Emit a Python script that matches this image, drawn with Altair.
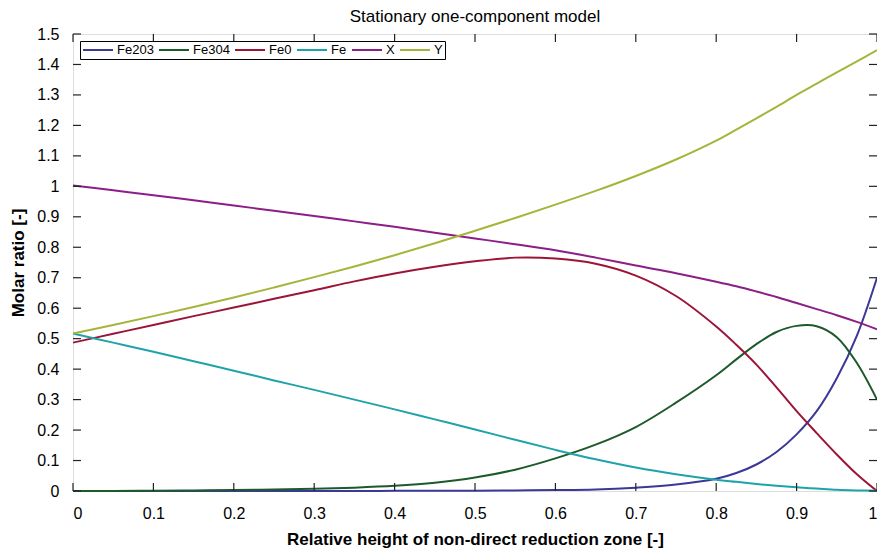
import altair as alt
import pandas as pd

# ---- data ----
x_vals = [0, 0.05, 0.1, 0.15, 0.2, 0.25, 0.3, 0.35, 0.4, 0.45, 0.5, 0.55, 0.6,
          0.65, 0.7, 0.75, 0.8, 0.825, 0.85, 0.875, 0.9, 0.925, 0.95, 0.975, 1.0]

fe203 = [0, 0, 0, 0, 0, 0, 0, 0, 0.0005, 0.001, 0.001, 0.002, 0.003,
         0.005, 0.011, 0.021, 0.04, 0.059, 0.087, 0.128, 0.186, 0.262, 0.37, 0.51, 0.70]
fe304 = [0, 0, 0.001, 0.002, 0.003, 0.005, 0.007, 0.011, 0.017, 0.027, 0.044, 0.07, 0.107,
         0.152, 0.21, 0.29, 0.38, 0.432, 0.482, 0.522, 0.542, 0.541, 0.505, 0.42, 0.30]
fe0 = [0.487, 0.516, 0.545, 0.574, 0.602, 0.631, 0.659, 0.688, 0.714, 0.736, 0.754, 0.766, 0.763,
       0.746, 0.707, 0.64, 0.54, 0.48, 0.415, 0.34, 0.262, 0.19, 0.12, 0.055, 0.0]
fe = [0.517, 0.487, 0.457, 0.426, 0.395, 0.363, 0.332, 0.300, 0.268, 0.235, 0.202, 0.168, 0.135,
      0.104, 0.077, 0.055, 0.037, 0.03, 0.023, 0.017, 0.012, 0.008, 0.004, 0.002, 0.001]
x_ratio = [1.003, 0.987, 0.971, 0.954, 0.937, 0.92, 0.903, 0.885, 0.867, 0.848, 0.829, 0.81, 0.79,
           0.766, 0.74, 0.715, 0.687, 0.672, 0.655, 0.637, 0.617, 0.597, 0.577, 0.555, 0.531]
y_ratio = [0.517, 0.545, 0.574, 0.604, 0.635, 0.668, 0.702, 0.737, 0.774, 0.813, 0.854, 0.896, 0.94,
           0.985, 1.034, 1.088, 1.15, 1.186, 1.223, 1.261, 1.30, 1.337, 1.374, 1.41, 1.447]

series_names = ["Fe203", "Fe304", "Fe0", "Fe", "X", "Y"]
series_values = [fe203, fe304, fe0, fe, x_ratio, y_ratio]
series_colors = ["#3b3896", "#1d5a2a", "#9c1538", "#1ea3aa", "#8c1e88", "#a6b43a"]

x_ticks = [0, 0.1, 0.2, 0.3, 0.4, 0.5, 0.6, 0.7, 0.8, 0.9, 1.0]
y_ticks = [0, 0.1, 0.2, 0.3, 0.4, 0.5, 0.6, 0.7, 0.8, 0.9, 1.0, 1.1, 1.2, 1.3, 1.4, 1.5]

W, H = 804, 457
FONT = "Liberation Sans"
TICK = 8

rows = []
for name, vals in zip(series_names, series_values):
    for xv, yv in zip(x_vals, vals):
        rows.append({"x": xv, "value": yv, "series": name})
df = pd.DataFrame(rows)

xscale = alt.Scale(domain=[0, 1], nice=False)
yscale = alt.Scale(domain=[0, 1.5], nice=False, zero=False)

x_axis = alt.Axis(values=x_ticks, format="~f", ticks=False, domain=False, grid=False,
                  labelFontSize=16, labelFont=FONT, labelColor="black", labelPadding=14,
                  title="Relative height of non-direct reduction zone [-]",
                  titleFont=FONT, titleFontSize=17, titleFontWeight="bold",
                  titleColor="black", titleY=48, titleBaseline="middle")
y_axis = alt.Axis(values=y_ticks, format="~f", ticks=False, domain=False, grid=False,
                  labelFontSize=16, labelFont=FONT, labelColor="black", labelPadding=14,
                  title="Molar ratio [-]", titleFont=FONT, titleFontSize=17,
                  titleFontWeight="bold", titleColor="black",
                  titleX=-55, titleBaseline="middle")

lines = alt.Chart(df).mark_line(strokeWidth=2, interpolate="catmull-rom").encode(
    x=alt.X("x:Q", scale=xscale, axis=x_axis),
    y=alt.Y("value:Q", scale=yscale, axis=y_axis),
    color=alt.Color("series:N",
                    scale=alt.Scale(domain=series_names, range=series_colors),
                    sort=series_names,
                    legend=alt.Legend(title=None, orient="none", legendX=7, legendY=7,
                                      direction="horizontal", symbolType="stroke",
                                      symbolSize=900, symbolStrokeWidth=2, clipHeight=14,
                                      labelFontSize=13, labelFont=FONT, labelColor="black",
                                      labelOffset=3, columnPadding=4, padding=2,
                                      strokeColor="black", fillColor="white")),
)

xt = pd.DataFrame({"x": x_ticks})
yt = pd.DataFrame({"value": y_ticks})

tick_style = dict(color="#222222", strokeWidth=1.2)
bottom_ticks = alt.Chart(xt).mark_rule(**tick_style).encode(
    x=alt.X("x:Q", scale=xscale, axis=x_axis), y=alt.value(H), y2=alt.value(H - TICK))
top_ticks = alt.Chart(xt).mark_rule(**tick_style).encode(
    x=alt.X("x:Q", scale=xscale, axis=x_axis), y=alt.value(0), y2=alt.value(TICK))
left_ticks = alt.Chart(yt).mark_rule(**tick_style).encode(
    y=alt.Y("value:Q", scale=yscale, axis=y_axis), x=alt.value(0), x2=alt.value(TICK))
right_ticks = alt.Chart(yt).mark_rule(**tick_style).encode(
    y=alt.Y("value:Q", scale=yscale, axis=y_axis), x=alt.value(W), x2=alt.value(W - TICK))

chart = alt.layer(lines, bottom_ticks, top_ticks, left_ticks, right_ticks).properties(
    width=W, height=H,
    title=alt.TitleParams("Stationary one-component model", font=FONT, fontSize=17,
                          fontWeight="normal", color="black", anchor="middle",
                          frame="group", offset=0),
    autosize=alt.AutoSizeParams(type="none"),
    padding={"left": 65, "top": 26, "right": 0, "bottom": 60},
).configure_view(stroke="#222222", strokeWidth=1.5).configure(background="white")

chart.save("out.html", embed_options={"renderer": "svg", "actions": False})
